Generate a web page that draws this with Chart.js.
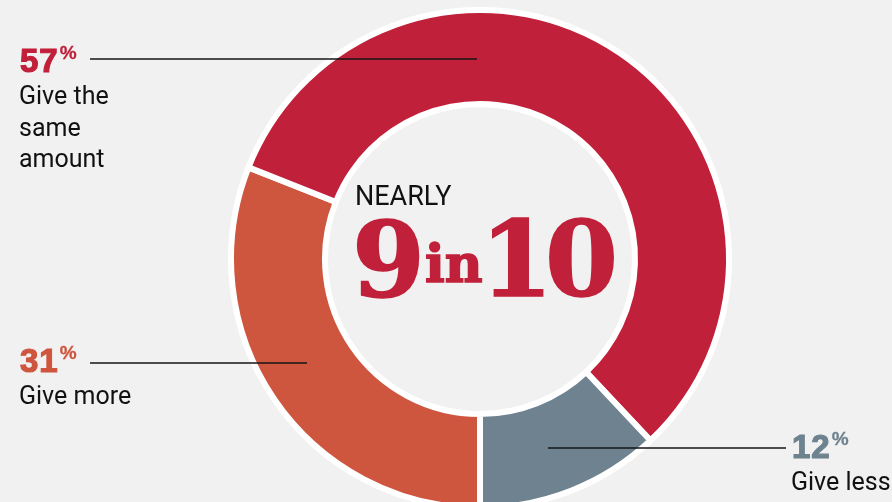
<!DOCTYPE html>
<html>
<head>
<meta charset="utf-8">
<script src="https://cdn.jsdelivr.net/npm/chart.js@4.4.0/dist/chart.umd.min.js"></script>
<style>
  html, body { margin: 0; padding: 0; background: #f1f1f1; }
  #wrap { position: relative; width: 892px; height: 502px; overflow: hidden; }
  #wrap canvas { position: absolute; left: 0; top: 0; }
  .lbl { position: absolute; white-space: nowrap; line-height: 1; }
  .pct { font-family: "Liberation Sans", Arial, sans-serif; font-weight: bold; font-size: 33px;
         -webkit-text-stroke: 1.2px currentColor; letter-spacing: 1px; }
  .pct span { font-size: 19px; -webkit-text-stroke: 0.3px currentColor; vertical-align: 13px; margin-left: 1px; }
  .txt { font-family: Roboto, sans-serif; font-size: 25px; color: #111; line-height: 31.5px; }
  .nearly { font-family: Roboto, sans-serif; font-size: 27px; color: #111; }
  .big { font-family: "DejaVu Serif", serif; font-weight: bold; color: #c1203a;
         -webkit-text-stroke: 1.6px #c1203a; }
</style>
</head>
<body>
<div id="wrap">
  <canvas id="donut" width="892" height="502"></canvas>
</div>
<script>
// data
var categories = ['Give more', 'Give the same amount', 'Give less'];
var shares = [31, 57, 12];
var labelLines = [['Give more'], ['Give the', 'same', 'amount'], ['Give less']];
var headline = ['NEARLY', '9', 'in', '10'];

// styles
var sliceColors = ['#ce553e', '#c1203a', '#6e828f'];
var labelPos = [
  { x: 19, pctBase: 372, textBase: 404 },
  { x: 19, pctBase: 72, textBase: 104 },
  { x: 791, pctBase: 458, textBase: 490 }
];
var leaders = [
  { x1: 90, x2: 307, y: 363 },
  { x1: 90, x2: 477, y: 59 },
  { x1: 548, x2: 786, y: 448 }
];

var wrap = document.getElementById('wrap');

function place(el, x, baseline) {
  el.style.left = x + 'px';
  el.style.top = '0px';
  wrap.appendChild(el);
  var m = document.createElement('span');
  m.style.cssText = 'display:inline-block;width:0;height:0;vertical-align:baseline';
  el.insertBefore(m, el.firstChild);
  el.style.top = (baseline - m.offsetTop) + 'px';
}

var leaderLines = {
  id: 'leaderLines',
  afterDraw: function(chart) {
    var ctx = chart.ctx;
    ctx.save();
    ctx.strokeStyle = '#151515';
    ctx.lineWidth = 1.6;
    leaders.forEach(function(l) {
      ctx.beginPath();
      ctx.moveTo(l.x1, l.y);
      ctx.lineTo(l.x2, l.y);
      ctx.stroke();
    });
    ctx.restore();
  }
};

new Chart(document.getElementById('donut'), {
  type: 'doughnut',
  data: {
    labels: categories,
    datasets: [{
      data: shares,
      backgroundColor: sliceColors,
      borderColor: '#ffffff',
      borderWidth: 6,
      hoverOffset: 0
    }]
  },
  options: {
    responsive: false,
    animation: false,
    events: [],
    rotation: 180,
    radius: 249,
    cutout: '62.25%',
    layout: { padding: { left: 68, top: 16 } },
    plugins: {
      legend: { display: false },
      tooltip: { enabled: false }
    }
  },
  plugins: [leaderLines]
});

// slice labels
for (var i = 0; i < categories.length; i++) {
  var p = document.createElement('div');
  p.className = 'lbl pct';
  p.style.color = sliceColors[i];
  p.innerHTML = shares[i] + '<span>%</span>';
  place(p, labelPos[i].x, labelPos[i].pctBase);

  var t = document.createElement('div');
  t.className = 'lbl txt';
  t.innerHTML = labelLines[i].join('<br>');
  place(t, labelPos[i].x, labelPos[i].textBase);
}

// center headline
var h0 = document.createElement('div');
h0.className = 'lbl nearly';
h0.textContent = headline[0];
place(h0, 355, 205);

var h1 = document.createElement('div');
h1.className = 'lbl big';
h1.style.fontSize = '105px';
h1.textContent = headline[1];
place(h1, 352, 297);

var h2 = document.createElement('div');
h2.className = 'lbl big';
h2.style.fontSize = '52px';
h2.textContent = headline[2];
place(h2, 425, 282);

var h3 = document.createElement('div');
h3.className = 'lbl big';
h3.style.fontSize = '105px';
h3.style.letterSpacing = '-8px';
h3.textContent = headline[3];
place(h3, 480, 296);
</script>
</body>
</html>
